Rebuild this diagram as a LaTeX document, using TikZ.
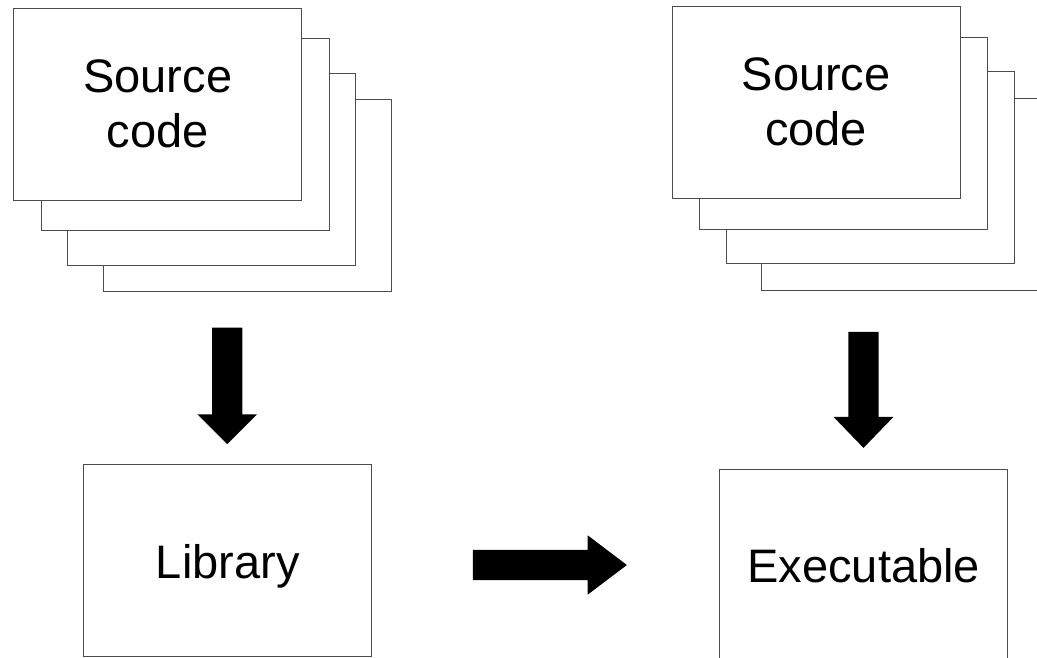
\documentclass[tikz,border=0pt]{standalone}
\usepackage{fontspec}
\setmainfont{Liberation Sans}
\usetikzlibrary{shapes.arrows}
\begin{document}
\begin{tikzpicture}[x=1pt,y=-1pt,
  sheet/.style={draw=black!70,line width=0.9pt,fill=white,inner sep=0pt,
    minimum width=288pt,minimum height=192pt,anchor=north west,
    align=center,font=\fontsize{47}{55}\selectfont},
  onebox/.style={sheet,text height=35pt,text depth=0pt},
  blockarrow/.style={single arrow,fill=black,draw=none,inner sep=0pt,
    inner ysep=14.85pt,text width=0pt,text height=0pt,text depth=0pt,
    single arrow head extend=14.8pt,single arrow head indent=0pt,anchor=tail}]
\useasboundingbox (0,0) rectangle (1037,658);
\clip (0,0) rectangle (1037,658);

% left stack of source files
\node[sheet] (l4) at (102.7,99.3) {};
\node[sheet] (l3) at (67.3,73.3) {};
\node[sheet] (l2) at (40.7,38.3) {};
\node[sheet] (l1) at (13.3,7.7) {Source\\code};

% right stack of source files
\node[sheet] (r4) at (760.7,98.3) {};
\node[sheet] (r3) at (726,70.7) {};
\node[sheet] (r2) at (699.3,36.7) {};
\node[sheet] (r1) at (671.7,5.7) {Source\\code};

% build results
\node[onebox] (lib) at (83.3,464.3) {Library};
\node[onebox] (exe) at (719.3,469) {Executable};

% block arrows
\node[blockarrow,rotate=-90,minimum height=116.7pt,single arrow tip angle=90] (a1) at (227.2,327.3) {};
\node[blockarrow,minimum height=154pt,single arrow tip angle=74.2,inner ysep=15pt,single arrow head extend=14.5pt] (a2) at (472.7,565) {};
\node[blockarrow,rotate=-90,minimum height=116pt,single arrow tip angle=88] (a3) at (863.5,331.7) {};
\end{tikzpicture}
\end{document}
